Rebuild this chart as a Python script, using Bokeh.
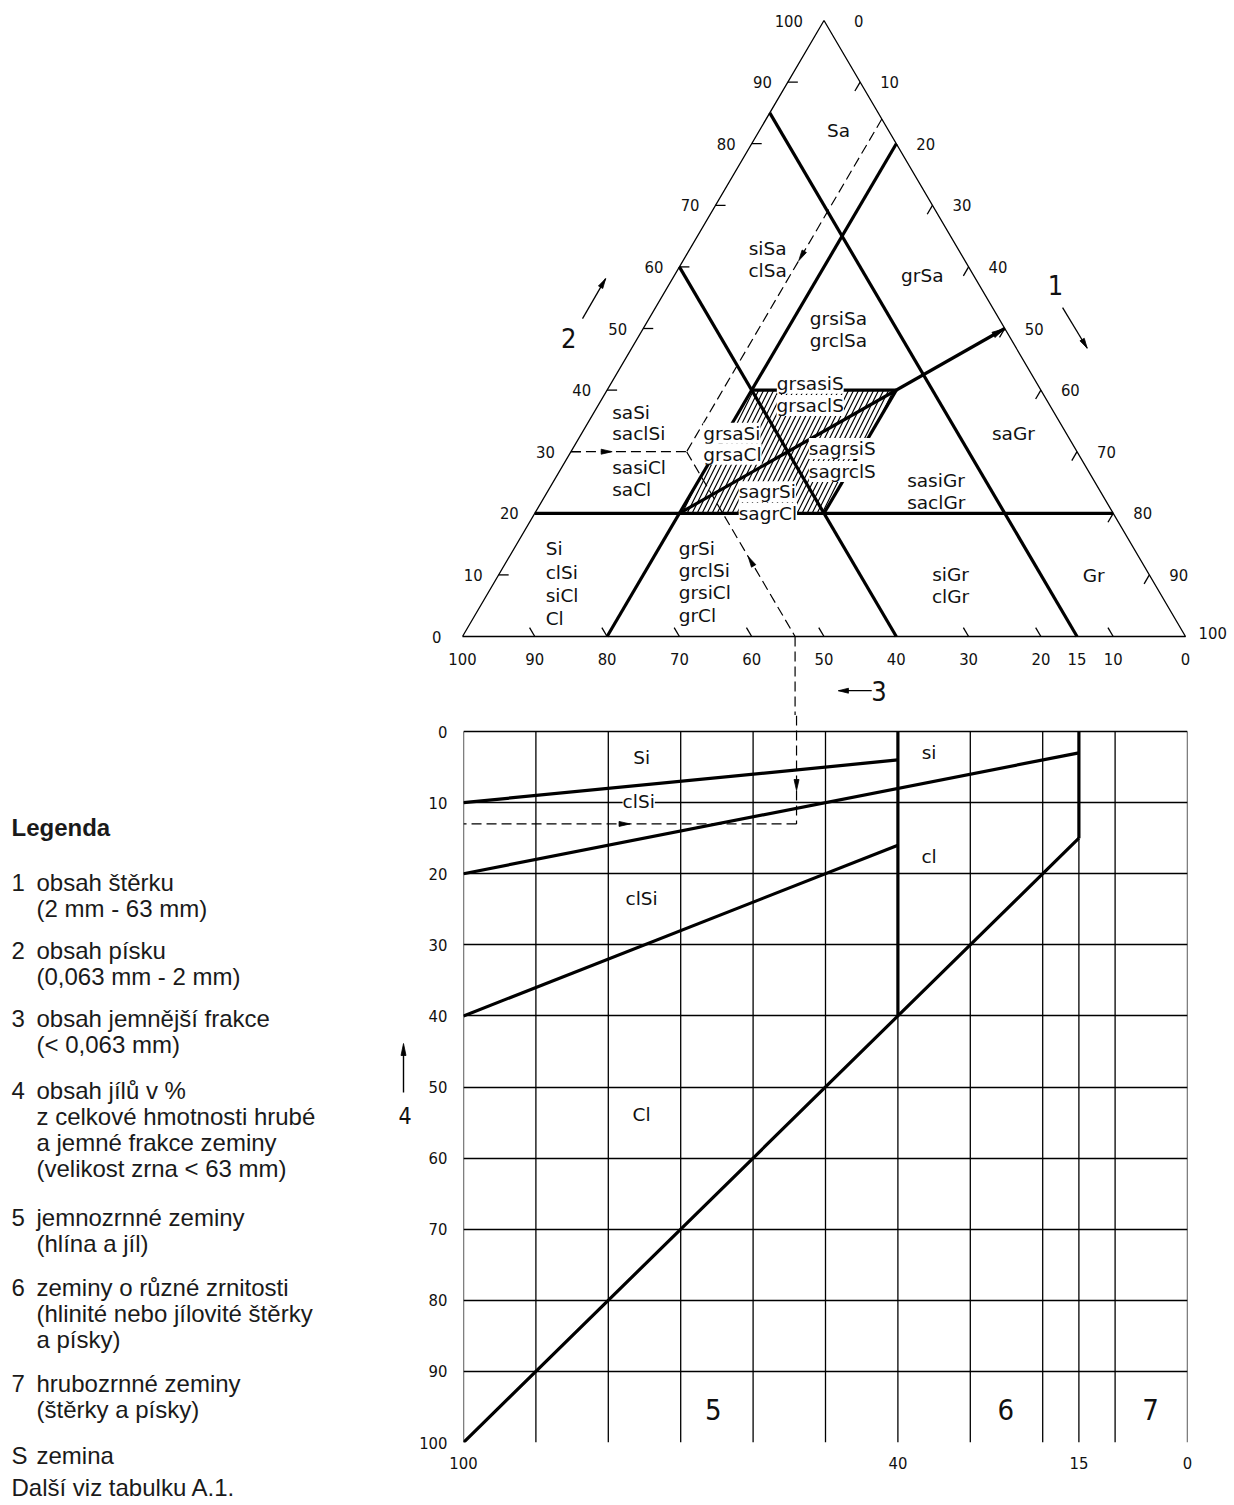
from bokeh.plotting import figure
from bokeh.models import Range1d, FixedTicker, LabelSet, ColumnDataSource
from bokeh.layouts import column, row
from bokeh.embed import file_html
from bokeh.resources import INLINE
from bokeh.core.properties import value

NUM_FONT = "DejaVu Sans Condensed"
TXT_FONT = "DejaVu Sans"
LEG_FONT = "Liberation Sans"

# ------------------------------------------------------------------ data
# ternary diagram (1 = gravel, 2 = sand, 3 = fines), all in %
side_labels = [0, 10, 20, 30, 40, 50, 60, 70, 80, 90, 100]
inner_ticks = [10, 20, 30, 40, 50, 60, 70, 80, 90]
fines_labels = [100, 90, 80, 70, 60, 50, 40, 30, 20, 15, 10, 0]

const_fines = [15, 40]        # boundary lines fines = const
const_gravel = [20]           # boundary lines gravel = const
const_sand = [20]             # boundary lines sand = const
sand_eq_gravel = [20, 50]     # line sand = gravel, from / to
zone_sand = [20, 40]          # hatched transition zone
zone_gravel = [20, 40]

# worked example (dashed)
ex_sand = 30
ex_gravel = 16
ex_fines = 54
ex_clay = 13

# region names
tri_text = ["Sa", "siSa", "clSa", "grSa", "grsiSa", "grclSa", "grsasiS", "grsaclS",
            "saSi", "saclSi", "sasiCl", "saCl", "grsaSi", "grsaCl", "sagrsiS", "sagrclS",
            "saGr", "sasiGr", "saclGr", "sagrSi", "sagrCl",
            "Si", "clSi", "siCl", "Cl", "grSi", "grclSi", "grsiCl", "grCl",
            "siGr", "clGr", "Gr"]

# lower chart: clay content (4) vs fines content (3)
fines_grid = [100, 90, 80, 70, 60, 50, 40, 30, 20, 15, 10, 0]
clay_grid = [0, 10, 20, 30, 40, 50, 60, 70, 80, 90, 100]
fines_ticks = [100, 40, 15, 0]
bnd_fines = [[100, 40], [100, 15], [100, 40], [100, 40, 15]]
bnd_clay = [[10, 4], [20, 3], [40, 16], [100, 40, 15]]
div_fines = [40, 15]
div_clay = [40, 15]
low_text = ["Si", "si", "clSi", "cl", "clSi", "Cl"]
group_text = ["5", "6", "7"]

legend_num = ["1", "2", "3", "4", "5", "6", "7", "S"]
legend_lines = [
    ["obsah štěrku", "(2 mm - 63 mm)"],
    ["obsah písku", "(0,063 mm - 2 mm)"],
    ["obsah jemnější frakce", "(< 0,063 mm)"],
    ["obsah jílů v %", "z celkové hmotnosti hrubé", "a jemné frakce zeminy",
     "(velikost zrna < 63 mm)"],
    ["jemnozrnné zeminy", "(hlína a jíl)"],
    ["zeminy o různé zrnitosti", "(hlinité nebo jílovité štěrky", "a písky)"],
    ["hrubozrnné zeminy", "(štěrky a písky)"],
    ["zemina"],
]

# ------------------------------------------------------------------ layout
PX, PY = 7.23, 6.16          # px per unit in the ternary plot
THIN, THICK = 1.3, 3.2
TOP_H = 715


def T(s, g):
    """ternary (sand, gravel) -> plot coordinates"""
    return g + s / 2.0, s


def arrowhead(p, x, y, ux, uy, sx, sy, length=11, width=5):
    vx, vy = ux * sx, uy * sy
    n = (vx ** 2 + vy ** 2) ** 0.5
    vx, vy = vx / n, vy / n
    bx, by = -vx * length, -vy * length
    nx, ny = -vy * width / 2, vx * width / 2
    xs = [x, x + (bx + nx) / sx, x + (bx - nx) / sx]
    ys = [y, y + (by + ny) / sy, y + (by - ny) / sy]
    p.patch(xs, ys, fill_color="black", line_color="black", line_width=0.8)


# ================================================================ triangle
x0 = -462 / PX
y_top = 100 + 20 / PY
y_bot = -(TOP_H - 636) / PY
p1 = figure(width=1234, height=TOP_H, x_range=Range1d(x0, x0 + 1234 / PX),
            y_range=Range1d(y_bot, y_top), x_axis_type=None, y_axis_type=None,
            output_backend="svg", toolbar_location=None, min_border=0)
p1.outline_line_color = None
p1.title.visible = False
p1.frame_align = False

# hatched zone
zc = [T(zone_sand[0], zone_gravel[0]), T(zone_sand[1], zone_gravel[0]),
      T(zone_sand[1], zone_gravel[1]), T(zone_sand[0], zone_gravel[1])]
p1.patch([c[0] for c in zc], [c[1] for c in zc], fill_color=None, line_color=None,
         hatch_pattern="/", hatch_color="black", hatch_scale=10, hatch_weight=1.2)

# outline
tri = [T(0, 0), T(100, 0), T(0, 100), T(0, 0)]
p1.line([c[0] for c in tri], [c[1] for c in tri], line_color="black", line_width=THIN)

# ticks
tl = 1.45
p1.segment([T(s, 0)[0] for s in inner_ticks], inner_ticks,
           [T(s, 0)[0] + 10 / PX for s in inner_ticks], inner_ticks,
           line_color="black", line_width=THIN)
rx = [T(100 - g, g)[0] for g in inner_ticks]
ry = [T(100 - g, g)[1] for g in inner_ticks]
p1.segment(rx, ry, [x - 0.5 * tl for x in rx], [y - tl for y in ry],
           line_color="black", line_width=THIN)
p1.segment([100 - f for f in inner_ticks], [0] * len(inner_ticks),
           [100 - f - 0.5 * tl for f in inner_ticks], [tl] * len(inner_ticks),
           line_color="black", line_width=THIN)

# tick labels
lab_kw = dict(text_font=value(NUM_FONT), text_font_size=value("16.5px"), text_color="#111111",
              text_baseline="middle")
off_l = [21 if s in (0, 100) else 16 for s in side_labels]
p1.text([T(s, 0)[0] - o / PX for s, o in zip(side_labels, off_l)], side_labels,
        [str(s) for s in side_labels], text_align="right", **lab_kw)
off_r = [30 if g == 0 else (13 if g == 100 else 20) for g in side_labels]
p1.text([T(100 - g, g)[0] + o / PX for g, o in zip(side_labels, off_r)],
        [T(100 - g, g)[1] + (0.6 if g == 100 else 0) for g in side_labels],
        [str(g) for g in side_labels], text_align="left", **lab_kw)
p1.text([100 - f for f in fines_labels], [-22 / PY] * len(fines_labels),
        [str(f) for f in fines_labels], text_align="center", **lab_kw)

# boundary lines
bx, by = [], []
for f in const_fines:
    a, b = T(100 - f, 0), T(0, 100 - f)
    bx.append([a[0], b[0]]); by.append([a[1], b[1]])
for g in const_gravel:
    a, b = T(0, g), T(100 - g, g)
    bx.append([a[0], b[0]]); by.append([a[1], b[1]])
for s in const_sand:
    a, b = T(s, 0), T(s, 100 - s)
    bx.append([a[0], b[0]]); by.append([a[1], b[1]])
se0, se1 = T(sand_eq_gravel[0], sand_eq_gravel[0]), T(sand_eq_gravel[1], sand_eq_gravel[1])
bx.append([se0[0], se1[0]]); by.append([se0[1], se1[1]])
a, b = T(zone_sand[1], zone_gravel[0]), T(zone_sand[1], zone_gravel[1])
bx.append([a[0], b[0]]); by.append([a[1], b[1]])
a, b = T(zone_sand[0], zone_gravel[1]), T(zone_sand[1], zone_gravel[1])
bx.append([a[0], b[0]]); by.append([a[1], b[1]])
p1.multi_line(bx, by, line_color="black", line_width=THICK)
arrowhead(p1, se1[0], se1[1], se1[0] - se0[0], se1[1] - se0[1], PX, PY, length=13, width=6)

# worked example (dashed)
dash_kw = dict(line_color="black", line_width=1.2, line_dash="10 5")
pt = T(ex_sand, ex_gravel)
r0 = T(100 - ex_gravel, ex_gravel)
l0 = T(ex_sand, 0)
b0 = T(0, 100 - ex_fines)
p1.multi_line([[r0[0], pt[0]], [l0[0], pt[0]], [pt[0], b0[0]], [b0[0], b0[0]]],
              [[r0[1], pt[1]], [l0[1], pt[1]], [pt[1], b0[1]], [b0[1], y_bot]], **dash_kw)
h1 = T(61, ex_gravel)
arrowhead(p1, h1[0], h1[1], -0.5, -1, PX, PY)
h2 = T(ex_sand, 5.7)
arrowhead(p1, h2[0], h2[1], 1, 0, PX, PY)
h3 = T(13, 100 - ex_fines - 13)
arrowhead(p1, h3[0], h3[1], -0.5, 1, PX, PY)

# region names
tri_x = [52.0, 42.2, 42.2, 63.6, 52.0, 52.0, 48.1, 48.1,
         20.7, 20.7, 20.7, 20.7, 33.3, 33.3, 47.9, 47.9,
         76.2, 61.5, 61.5, 38.2, 38.2,
         11.5, 11.5, 11.5, 11.5, 29.9, 29.9, 29.9, 29.9,
         67.5, 67.5, 87.3]
tri_y = [82.1, 63.0, 59.4, 58.6, 51.6, 48.1, 41.1, 37.5,
         36.4, 33.0, 27.4, 23.9, 33.0, 29.6, 30.5, 26.8,
         33.0, 25.3, 21.8, 23.5, 20.0,
         14.3, 10.4, 6.7, 2.9, 14.3, 10.7, 7.1, 3.4,
         10.1, 6.5, 9.9]
tri_align = ["center", "center", "center", "center", "center", "center", "center", "center",
             "left", "left", "left", "left", "left", "left", "left", "left",
             "center", "left", "left", "left", "left",
             "left", "left", "left", "left", "left", "left", "left", "left",
             "center", "center", "center"]
tri_bg = [t in ("grsasiS", "grsaclS", "grsaSi", "grsaCl", "sagrsiS", "sagrclS", "sagrSi", "sagrCl")
          for t in tri_text]
for bg in (False, True):
    idx = [i for i, b in enumerate(tri_bg) if b == bg]
    src = ColumnDataSource(dict(x=[tri_x[i] for i in idx], y=[tri_y[i] for i in idx],
                                text=[tri_text[i] for i in idx], align=[tri_align[i] for i in idx]))
    p1.add_layout(LabelSet(x="x", y="y", text="text", source=src, text_align="align",
                           text_baseline="middle", text_font=value(TXT_FONT),
                           text_font_size=value("18.5px"), text_color="#111111",
                           background_fill_color="white" if bg else None))

# axis numbers 1, 2, 3 with arrows
big_kw = dict(text_font=value(NUM_FONT), text_font_size=value("27px"), text_color="#111111",
              text_baseline="middle", text_align="center")
p1.text([82.0, 14.7, 57.6], [57.0, 48.4, -8.8], ["1", "2", "3"], **big_kw)
p1.multi_line([[83.0, 86.4], [16.6, 19.8], [56.6, 52.0]], [[53.4, 46.8], [51.6, 58.1], [-8.8, -8.8]],
              line_color="black", line_width=1.3)
arrowhead(p1, 86.4, 46.8, 0.5, -1, PX, PY, length=10, width=5)
arrowhead(p1, 19.8, 58.1, 0.5, 1, PX, PY, length=10, width=5)
arrowhead(p1, 52.0, -8.8, -1, 0, PX, PY, length=10, width=5)

# ================================================================ lower chart
LEG_W = 416
LOW_H = 1505 - TOP_H
SX2, SY2 = -7.25, -7.11
p2 = figure(width=1234 - LEG_W, height=LOW_H, x_range=Range1d(100, 0),
            y_range=Range1d(100, -(731 - TOP_H) / 7.11),
            output_backend="svg", toolbar_location=None,
            min_border_left=462 - LEG_W, min_border_right=1234 - 1187,
            min_border_top=0, min_border_bottom=1505 - 1442)
p2.outline_line_color = None
p2.title.visible = False
p2.frame_align = False
p2.xgrid.visible = False
p2.ygrid.ticker = FixedTicker(ticks=clay_grid)
p2.ygrid.grid_line_color = "black"
p2.ygrid.grid_line_width = THIN
p2.ygrid.grid_line_alpha = 1.0
p2.xaxis.ticker = FixedTicker(ticks=fines_ticks)
p2.yaxis.ticker = FixedTicker(ticks=clay_grid)
for ax in (p2.xaxis[0], p2.yaxis[0]):
    ax.axis_line_color = None
    ax.major_tick_line_color = None
    ax.minor_tick_line_color = None
    ax.major_tick_out = 0
    ax.major_tick_in = 0
    ax.minor_tick_out = 0
    ax.major_label_text_font = NUM_FONT
    ax.major_label_text_font_size = "16.5px"
    ax.major_label_text_color = "#111111"
p2.xaxis.major_label_standoff = 14
p2.yaxis.major_label_standoff = 16

p2.segment(fines_grid, [0] * len(fines_grid), fines_grid, [100] * len(fines_grid),
           line_color="black", line_width=THIN)
p2.multi_line(bnd_fines, bnd_clay, line_color="black", line_width=THICK)
p2.segment(div_fines, [0] * len(div_fines), div_fines, div_clay, line_color="black", line_width=THICK)

p2.multi_line([[ex_fines, ex_fines], [ex_fines, 100]],
              [[-(731 - TOP_H) / 7.11, ex_clay], [ex_clay, ex_clay]], **dash_kw)
arrowhead(p2, ex_fines, 8.3, 0, 1, SX2, SY2)
arrowhead(p2, 77.0, ex_clay, -1, 0, SX2, SY2)

low_x = [75.4, 35.7, 75.8, 35.7, 75.4, 75.4]
low_y = [3.6, 3.0, 9.9, 17.6, 23.5, 53.9]
low_bg = [False, False, True, False, False, False]
for bg in (False, True):
    idx = [i for i, b in enumerate(low_bg) if b == bg]
    src = ColumnDataSource(dict(x=[low_x[i] for i in idx], y=[low_y[i] for i in idx],
                                text=[low_text[i] for i in idx]))
    p2.add_layout(LabelSet(x="x", y="y", text="text", source=src, text_align="center",
                           text_baseline="middle", text_font=value(TXT_FONT),
                           text_font_size=value("18.5px"), text_color="#111111",
                           background_fill_color="white" if bg else None))
p2.text([65.5, 25.1, 5.1], [95.4, 95.4, 95.4], group_text, text_font=value(NUM_FONT),
        text_font_size=value("29px"), text_color="#111111", text_align="center",
        text_baseline="middle")

# ================================================================ legend
p3 = figure(width=LEG_W, height=LOW_H, x_range=Range1d(0, LEG_W), y_range=Range1d(LOW_H, 0),
            x_axis_type=None, y_axis_type=None, output_backend="svg",
            toolbar_location=None, min_border=0)
p3.outline_line_color = None
p3.title.visible = False
p3.frame_align = False
leg_kw = dict(text_font=value(LEG_FONT), text_font_size=value("24px"), text_color="#1a1a1a",
              text_baseline="middle", text_align="left")
LS = 26
first_y = [167, 235, 303, 375, 502, 572, 668, 740]
p3.text([11], [112], ["Legenda"], text_font_style="bold", **leg_kw)
p3.text([11] * len(legend_num), first_y, legend_num, **leg_kw)
tx, ty, tt = [], [], []
for y0, lines in zip(first_y, legend_lines):
    for k, t in enumerate(lines):
        tx.append(36); ty.append(y0 + k * LS); tt.append(t)
p3.text(tx, ty, tt, **leg_kw)
p3.text([11], [772], ["Další viz tabulku A.1."], **leg_kw)

# axis label 4 of the lower chart (sits left of its tick labels)
p3.text([404.5], [400], ["4"], text_font=value(NUM_FONT), text_font_size=value("23px"),
        text_color="#111111", text_align="center", text_baseline="middle")
p3.segment([403], [377], [403], [335], line_color="black", line_width=1.4)
arrowhead(p3, 403, 328, 0, -1, 1, -1, length=12, width=5)

layout = column(p1, row(p3, p2))
open("out.html", "w").write(file_html(layout, INLINE))
